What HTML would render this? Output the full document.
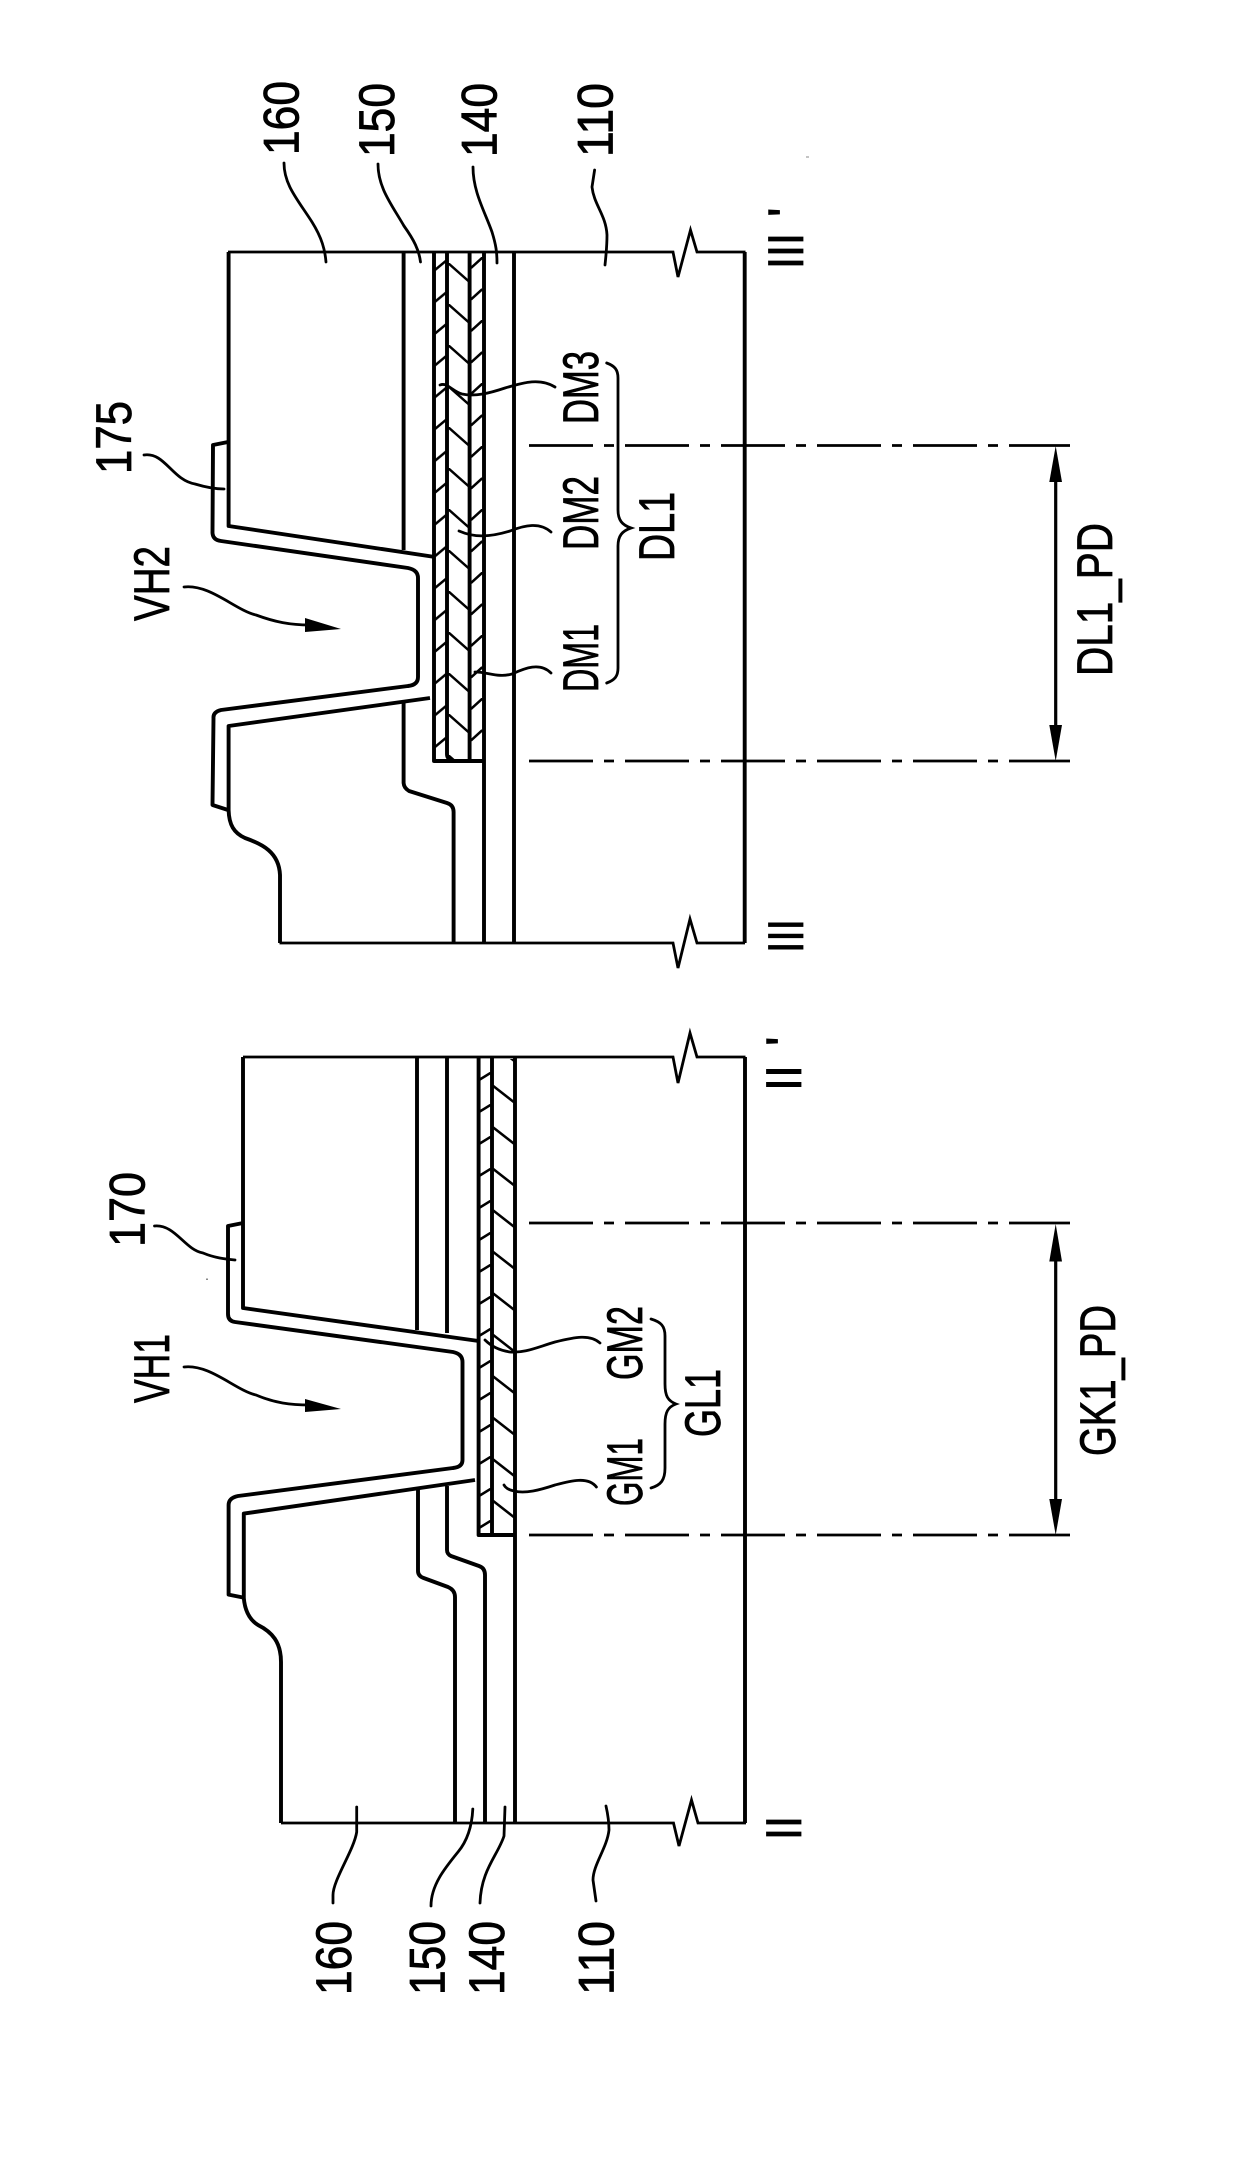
<!DOCTYPE html>
<html>
<head>
<meta charset="utf-8">
<style>
html,body{margin:0;padding:0;background:#fff;width:1240px;height:2170px;overflow:hidden}
svg{display:block}
text{font-family:"Liberation Sans",sans-serif;font-size:50px;fill:#000;stroke:#000;stroke-width:.8}
.b{fill:none;stroke:#000;stroke-width:3.9;stroke-linejoin:round}
.e{fill:none;stroke:#000;stroke-width:2.8}
.l{fill:none;stroke:#000;stroke-width:2.8;stroke-linecap:round}
.h{fill:none;stroke:#000;stroke-width:2.5}
.d{fill:none;stroke:#000;stroke-width:2.7;stroke-dasharray:64 11 10 11}
</style>
</head>
<body>
<svg width="1240" height="2170" viewBox="0 0 1240 2170" xmlns="http://www.w3.org/2000/svg">
<defs>
<pattern id="p1" patternUnits="userSpaceOnUse" x="435" y="260" width="12" height="31.8"><path class="h" d="M0 10L12 0"/></pattern>
<pattern id="p2" patternUnits="userSpaceOnUse" x="448" y="263" width="21.5" height="41"><path class="h" d="M0 0L21.5 19"/></pattern>
<pattern id="p3" patternUnits="userSpaceOnUse" x="471" y="257" width="12" height="31.5"><path class="h" d="M0 11L12 0"/></pattern>
<pattern id="p4" patternUnits="userSpaceOnUse" x="479" y="1072" width="13" height="32"><path class="h" d="M0 8L13 0"/></pattern>
<pattern id="p5" patternUnits="userSpaceOnUse" x="492" y="1085" width="23" height="41.5"><path class="h" d="M0 0L23 18"/></pattern>
</defs>
<rect width="1240" height="2170" fill="#fff"/>

<!-- hatching -->
<rect x="435" y="254" width="12" height="505" fill="url(#p1)"/>
<rect x="448" y="254" width="21.5" height="505" fill="url(#p2)"/>
<rect x="471" y="254" width="12" height="505" fill="url(#p3)"/>
<rect x="479" y="1059" width="13" height="474" fill="url(#p4)"/>
<rect x="492" y="1059" width="23" height="474" fill="url(#p5)"/>

<!-- RIGHT SECTION (III - III') -->
<path class="e" d="M228 252H673L678 277L690.5 230L697 252H745.5"/>
<path class="e" d="M279.5 943H673L678 968L690 919L697 943H745"/>
<path class="b" d="M744.7 252V943"/>
<path class="b" d="M228.6 252V526L435 557"/>
<path class="b" d="M430 698L228.6 726V810C229 825 234 833 245 838C262 844 279 852 280 875V943"/>
<path class="b" d="M228 442L213 445L212.5 533Q213 540 221 541L408 568Q418 570 418 578V677Q418 685 408 686L221 710Q213 712 213.5 718L212.5 805L228 810"/>
<path class="b" d="M403.6 252V550"/>
<path class="b" d="M403.6 703V783Q404 788 409 791L447 803Q453.6 805 453.6 812V943"/>
<path class="b" d="M434 252V761H484"/>
<path class="b" d="M447 252V754Q447 759 452 760"/>
<path class="b" d="M469.6 252V761"/>
<path class="b" d="M484 252V943"/>
<path class="b" d="M514 252V943"/>

<!-- LEFT SECTION (II - II') -->
<path class="e" d="M243 1057H673L678 1083L690 1033L697 1057H745.5"/>
<path class="e" d="M281 1823H673.5L679 1846L691.5 1800L698 1823H746"/>
<path class="b" d="M745 1057V1823"/>
<path class="b" d="M243 1057V1308L478.6 1341"/>
<path class="b" d="M475 1480L243.8 1513.6V1598C245 1612 250 1620 258 1625C272 1632 281 1642 281 1662V1823"/>
<path class="b" d="M243 1223L228 1226V1314Q228 1321 235 1322L453 1352Q462.5 1354 462.5 1362V1460Q462.5 1467 453 1468L238 1496Q228.6 1498 228.6 1505V1594.6L243 1597.5"/>
<path class="b" d="M417 1057V1330"/>
<path class="b" d="M447 1057V1333"/>
<path class="b" d="M418 1489V1571Q418 1576 423.6 1578L448 1587Q455 1590 455 1597V1823"/>
<path class="b" d="M447 1486V1550Q447 1554 451 1556L479 1566Q485 1568 485 1575V1823"/>
<path class="b" d="M478.6 1057V1535H515"/>
<path class="b" d="M492 1057V1535"/>
<path class="b" d="M515 1057V1823"/>

<!-- dash-dot lines -->
<path class="d" d="M529 445.5H1070"/>
<path class="d" d="M529 761H1070"/>
<path class="d" d="M529 1223H1070"/>
<path class="d" d="M529 1535H1070"/>

<!-- dimension arrows -->
<path d="M1055.7 470V735" stroke="#000" stroke-width="3.2"/>
<path d="M1055.7 446L1062 482H1049.3Z"/>
<path d="M1055.7 761L1062 725H1049.3Z"/>
<path d="M1055.7 1250V1510" stroke="#000" stroke-width="3.2"/>
<path d="M1055.7 1224L1062 1261.5H1049.3Z"/>
<path d="M1055.7 1535L1062 1499H1049.3Z"/>

<!-- leaders: right section -->
<path class="l" d="M284 163C284 185 298 200 312 222C322 238 325 250 326 262"/>
<path class="l" d="M378 164C378 188 392 205 404 226C414 240 419 250 420.5 262"/>
<path class="l" d="M473 167C473 192 485 212 492 232C496 245 497 252 497 263"/>
<path class="l" d="M594.6 170L592 187C594 205 606 215 607 235C607 247 606 255 605 265"/>
<path class="l" d="M144 455C165 452 172 480 195 484C205 487 215 489 224 489"/>
<path class="l" d="M555 387C540 378 525 382 505 388C490 393 475 397 462 394C452 391 447 382 440 385"/>
<path class="l" d="M551 532C540 522 525 525 510 531C490 537 475 538 459 531"/>
<path class="l" d="M551 673C540 662 525 668 512 674C498 678 488 672 475 672"/>
<path class="l" d="M606.7 363C615 366 618 370 618 378V510C618 520 622 525 631 528C622 531 618 536 618 546V668C618 676 615 680 606.7 683"/>
<path class="l" d="M184 587C210 584 235 610 256 615C275 622 290 625 310 625"/>
<path d="M305 618L341 629L305 632Z"/>

<!-- leaders: left section -->
<path class="l" d="M154.5 1226C175 1224 185 1250 203 1253C215 1258 225 1259 235 1260"/>
<path class="l" d="M184 1367C210 1364 235 1390 256 1395C275 1403 290 1405 310 1405"/>
<path d="M305 1399L341 1409L305 1412Z"/>
<path class="l" d="M600 1343C590 1334 575 1337 555 1342C535 1348 525 1353 510 1352C497 1350 490 1345 485 1340"/>
<path class="l" d="M596.4 1487C588 1476 570 1481 555 1485C540 1490 525 1494 514 1491C508 1490 505 1487 504 1485"/>
<path class="l" d="M651 1319C661 1322 665 1326 665 1336V1384C665 1396 668 1401 676 1404C668 1407 665 1412 665 1424V1468C665 1480 661 1485 651 1488"/>
<path class="l" d="M356.7 1807V1832C354 1850 333 1880 333 1895V1903"/>
<path class="l" d="M472.8 1809C472 1825 468 1840 458 1852C445 1868 431 1885 431 1906"/>
<path class="l" d="M505 1807L504 1836C498 1855 481 1870 480 1903"/>
<path class="l" d="M606 1806C608 1815 609 1822 609 1830C607 1848 593 1865 593 1880L596 1901"/>

<!-- stray specks -->
<rect x="806" y="156.5" width="3" height="1" fill="#888"/>
<rect x="206" y="1278.5" width="2" height="1.5" fill="#888"/>

<!-- labels -->
<text transform="translate(298.6,155) rotate(-90)" textLength="74" lengthAdjust="spacingAndGlyphs">160</text>
<text transform="translate(394,157) rotate(-90)" textLength="74" lengthAdjust="spacingAndGlyphs">150</text>
<text transform="translate(496.4,157) rotate(-90)" textLength="74" lengthAdjust="spacingAndGlyphs">140</text>
<text transform="translate(612.5,157) rotate(-90)" textLength="74" lengthAdjust="spacingAndGlyphs">110</text>
<text transform="translate(131,474) rotate(-90)" textLength="73" lengthAdjust="spacingAndGlyphs">175</text>
<text transform="translate(169,621) rotate(-90)" textLength="75" lengthAdjust="spacingAndGlyphs">VH2</text>
<text transform="translate(598,424) rotate(-90)" textLength="73" lengthAdjust="spacingAndGlyphs">DM3</text>
<text transform="translate(598,550) rotate(-90)" textLength="74" lengthAdjust="spacingAndGlyphs">DM2</text>
<text transform="translate(598,692) rotate(-90)" textLength="68" lengthAdjust="spacingAndGlyphs">DM1</text>
<text transform="translate(674,561) rotate(-90)" textLength="69" lengthAdjust="spacingAndGlyphs">DL1</text>
<text transform="translate(1112,676) rotate(-90)" textLength="153" lengthAdjust="spacingAndGlyphs">DL1_PD</text>
<text transform="translate(803,269) rotate(-90)" textLength="36" lengthAdjust="spacingAndGlyphs">III</text>
<text transform="translate(803,217) rotate(-90)">'</text>
<text transform="translate(803,953) rotate(-90)" textLength="34" lengthAdjust="spacingAndGlyphs">III</text>

<text transform="translate(801,1091) rotate(-90)" textLength="26" lengthAdjust="spacingAndGlyphs">II</text>
<text transform="translate(801,1046) rotate(-90)">'</text>
<text transform="translate(801,1840) rotate(-90)" textLength="24" lengthAdjust="spacingAndGlyphs">II</text>
<text transform="translate(144.6,1247) rotate(-90)" textLength="75" lengthAdjust="spacingAndGlyphs">170</text>
<text transform="translate(169,1403) rotate(-90)" textLength="69" lengthAdjust="spacingAndGlyphs">VH1</text>
<text transform="translate(642,1380) rotate(-90)" textLength="74" lengthAdjust="spacingAndGlyphs">GM2</text>
<text transform="translate(642,1506) rotate(-90)" textLength="68" lengthAdjust="spacingAndGlyphs">GM1</text>
<text transform="translate(720,1437) rotate(-90)" textLength="68" lengthAdjust="spacingAndGlyphs">GL1</text>
<text transform="translate(1115,1456) rotate(-90)" textLength="151" lengthAdjust="spacingAndGlyphs">GK1_PD</text>
<text transform="translate(351,1995) rotate(-90)" textLength="74" lengthAdjust="spacingAndGlyphs">160</text>
<text transform="translate(444.6,1995) rotate(-90)" textLength="74" lengthAdjust="spacingAndGlyphs">150</text>
<text transform="translate(504,1995) rotate(-90)" textLength="74" lengthAdjust="spacingAndGlyphs">140</text>
<text transform="translate(613.4,1995) rotate(-90)" textLength="74" lengthAdjust="spacingAndGlyphs">110</text>
</svg>
</body>
</html>
